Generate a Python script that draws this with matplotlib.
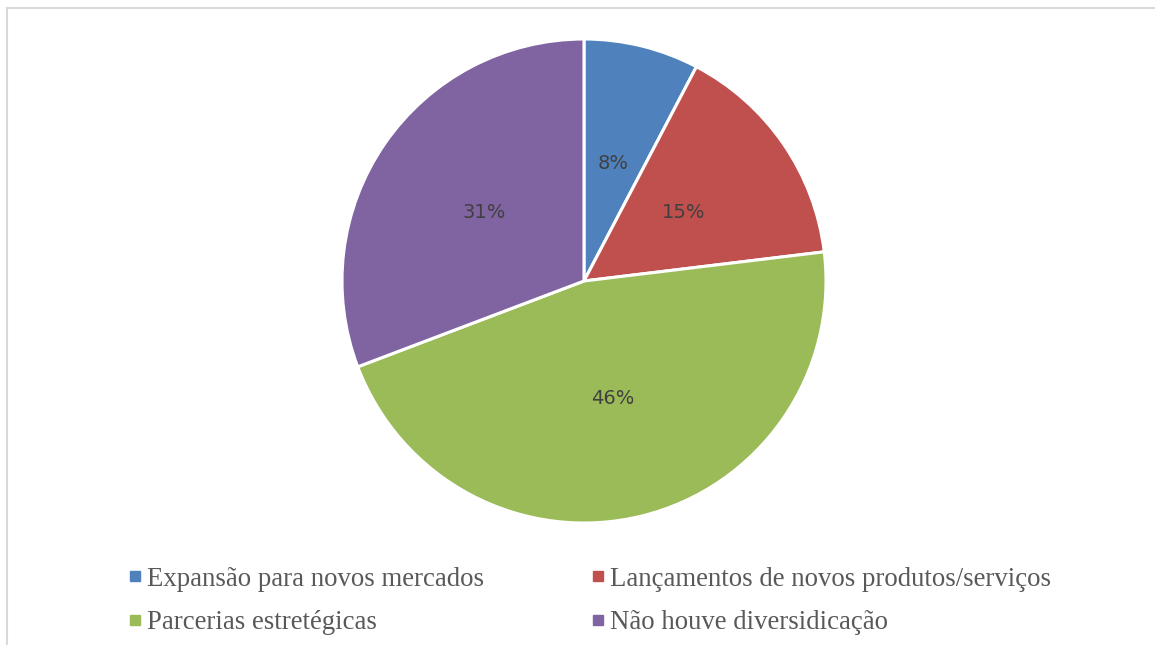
import matplotlib
matplotlib.use("Agg")
import matplotlib.pyplot as plt
from matplotlib.lines import Line2D

# respondents per category (percent labels come out as 8/15/46/31)
categories = ["Expansão para novos mercados", "Lançamentos de novos produtos/serviços",
              "Parcerias estretégicas", "Não houve diversidicação"]
counts = [1, 2, 6, 4]
colors = ["#4F81BD", "#C0504D", "#9BBB59", "#8064A2"]

W, H = 1155, 645
fig = plt.figure(figsize=(W / 100, H / 100), dpi=100)

# pie centre and radius in pixels
cx, cy, r = 584, 281, 242
ax = fig.add_axes([(cx - r) / W, (H - cy - r) / H, 2 * r / W, 2 * r / H])

wedges, texts, autotexts = ax.pie(
    counts, colors=colors, startangle=90, counterclock=False,
    autopct=lambda p: "{:.0f}%".format(p), pctdistance=0.5,
    wedgeprops=dict(edgecolor="white", linewidth=2.2),
    textprops=dict(fontsize=14, color="#404040", family="DejaVu Sans"))
ax.set_xlim(-1, 1)
ax.set_ylim(-1, 1)
ax.set_aspect("equal")
ax.axis("off")

# chart frame (only top and left edges show in the source)
fig.add_artist(Line2D([7 / W, 1], [1 - 8 / H, 1 - 8 / H], color="#d9d9d9", lw=1.5))
fig.add_artist(Line2D([7 / W, 7 / W], [0, 1 - 8 / H], color="#d9d9d9", lw=1.5))

# legend, row-wise order -> reorder for column filling
order = [0, 2, 1, 3]
handles = [Line2D([], [], marker="s", linestyle="none", markersize=6.5,
                  markerfacecolor=colors[i], markeredgecolor=colors[i]) for i in order]
labels = [categories[i] for i in order]
leg = fig.legend(handles, labels, ncol=2, loc="center", bbox_to_anchor=(590 / W, 1 - 601 / H),
                 frameon=False, handlelength=0.45, handletextpad=0.25, columnspacing=4.0,
                 labelspacing=0.7, prop=dict(family="Liberation Serif", size=19.3))
for t in leg.get_texts():
    t.set_color("#595959")

plt.savefig("out.png", dpi=100)
